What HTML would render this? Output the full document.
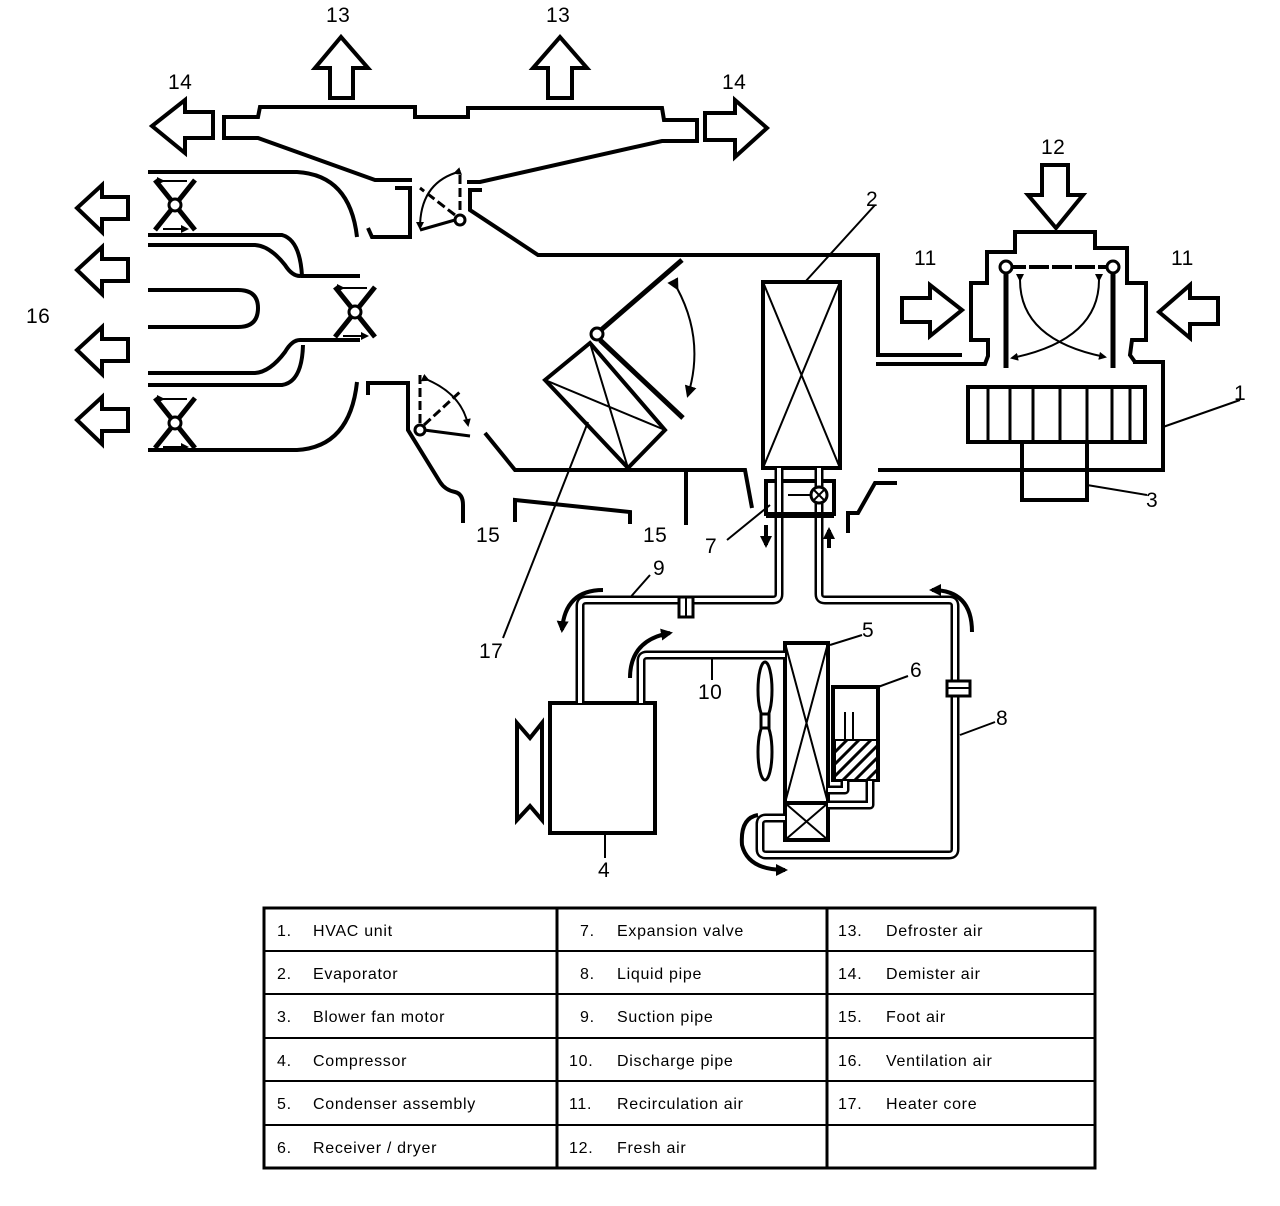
<!DOCTYPE html>
<html><head><meta charset="utf-8"><style>
body{margin:0;background:#fff;width:1280px;height:1206px;overflow:hidden}
svg{display:block}
text{font-family:"Liberation Sans",sans-serif;fill:#000}
.l{font-size:21px;letter-spacing:0.5px}
.t{font-size:16px;letter-spacing:0.7px}
</style></head><body>
<svg width="1280" height="1206" viewBox="0 0 1280 1206" xmlns="http://www.w3.org/2000/svg">
<defs>
<marker id="ah" markerWidth="8" markerHeight="8" refX="6" refY="4" orient="auto" markerUnits="userSpaceOnUse"><path d="M0,0 L8,4 L0,8 z" fill="#000"/></marker>
<marker id="ab" markerWidth="12" markerHeight="12" refX="9" refY="6" orient="auto" markerUnits="userSpaceOnUse"><path d="M0,0 L12,6 L0,12 z" fill="#000"/></marker>
</defs>
<g fill="none" stroke="#000" stroke-width="4" stroke-linejoin="miter">
<path d="M330,98 V68 H315 L341,37 L368,68 H353 V98 Z"/>
<path d="M548,98 V68 H533 L560,37 L587,68 H572 V98 Z"/>
<path d="M213,112 H185 V100 L152,126 L185,153 V138 H213 Z"/>
<path d="M705,113 H735 V100 L767,128 L735,157 V140 H705 Z"/>
<path d="M412,180 H375 L258,138 H224 V117 H258 L260,107 H415 V117 H468 V108 H662 L664,120 H697 V141 H662 L480,182 H467"/>
<path d="M395,188 H410 V237 H372 L368,228"/>
<path d="M482,190 H470 V210 L538,255 H878 V355 H962"/>
<path d="M148,172 H297 Q350,175 357,237"/>
<path d="M148,235 H282 Q300,240 302,276 H360"/>
<path d="M148,245 H255 Q270,246 285,265 Q292,276 300,276"/>
<path d="M148,290 H238 Q258,290 258,308 Q258,327 238,327 H148"/>
<path d="M148,373 H255 Q270,372 285,352 Q292,340 300,340 H360"/>
<path d="M148,385 H282 Q302,382 303,345"/>
<path d="M148,450 H297 Q350,447 357,382"/>
<path d="M128,197 H102 V185 L77,208 L102,232 V219 H128 Z"/>
<path d="M128,259 H102 V247 L77,270 L102,294 V281 H128 Z"/>
<path d="M128,339 H102 V327 L77,350 L102,374 V361 H128 Z"/>
<path d="M128,409 H102 V397 L77,420 L102,444 V431 H128 Z"/>
<path d="M368,395 V383 H408 V430 L440,482 Q445,490 455,492 Q463,494 463,505 V523"/>
<path d="M485,433 L515,470 H745 L752,508"/>
<path d="M686,472 V525"/>
<path d="M515,522 V500 L630,512 V524"/>
<path d="M878,470 H1163 V362 H1133"/>
<path d="M848,533 V513 H858 L875,483 H897"/>
<rect x="763" y="282" width="77" height="186"/>
<rect x="766" y="481" width="68" height="33"/>
<path d="M876,364 H985 L988,356 V340 H971 V283 H987 V252 H1015 V232 H1095 V248 H1127 V283 H1146 V340 H1132 L1130,355 L1135,362"/>
<rect x="968" y="387" width="177" height="55"/>
<rect x="1022" y="442" width="65" height="58"/>
<path d="M902,298 H930 V285 L962,310 L930,336 V322 H902 Z"/>
<path d="M1218,298 H1190 V285 L1159,312 L1190,338 V324 H1218 Z"/>
<path d="M1042,165 H1068 V195 H1083 L1056,228 L1028,195 H1042 Z"/>
<path d="M545,380 L590,343 L665,430 L628,468 Z"/>
<rect x="550" y="703" width="105" height="130"/>
<path d="M517,723 L530,738 L542,723 V820 L530,806 L517,820 Z"/>
<rect x="785" y="643" width="43" height="197"/>
<line x1="785" y1="803" x2="828" y2="803"/>
<rect x="833" y="687" width="45" height="93"/>
</g>
<g stroke="#000" stroke-width="2" fill="none">
<path d="M988,387V442M1010,387V442M1033,387V442M1060,387V442M1087,387V442M1112,387V442M1130,387V442" stroke-width="3"/>
<path d="M763,282 L840,468 M840,282 L763,468"/>
<path d="M785,643 L828,803 M828,643 L785,803 M785,803 L828,840 M828,803 L785,840"/>
<path d="M545,380 L665,430 M590,343 L628,468"/>
<path d="M875,205 L805,282 M1240,400 L1163,427 M1147,495 L1087,485 M727,540 L770,505 M503,638 L588,422 M628,600 L650,575 M712,680 V655 M830,645 L862,635 M878,687 L908,676 M960,735 L995,722 M605,833 V858"/>
</g>
<g fill="none" stroke-linejoin="round">
<path d="M779,468 V594 Q779,600 773,600 H586 Q580,600 580,606 V703" stroke="#000" stroke-width="9"/>
<path d="M779,468 V594 Q779,600 773,600 H586 Q580,600 580,606 V703" stroke="#fff" stroke-width="4"/>
<path d="M819,468 V594 Q819,600 825,600 H949 Q955,600 955,606 V849 Q955,855 949,855 H766 Q760,855 760,849 V824 Q760,818 766,818 H785" stroke="#000" stroke-width="9"/>
<path d="M819,468 V594 Q819,600 825,600 H949 Q955,600 955,606 V849 Q955,855 949,855 H766 Q760,855 760,849 V824 Q760,818 766,818 H785" stroke="#fff" stroke-width="4"/>
<path d="M641,703 V661 Q641,655 647,655 H785" stroke="#000" stroke-width="9"/>
<path d="M641,703 V661 Q641,655 647,655 H785" stroke="#fff" stroke-width="4"/>
<path d="M828,790 H845 V740 M870,780 V805 H828" stroke="#000" stroke-width="9"/>
<path d="M828,790 H845 V740 M870,780 V805 H828" stroke="#fff" stroke-width="4"/>
</g>
<g stroke="#000" stroke-width="3">
<rect x="835" y="740" width="42" height="40" fill="#fff" stroke-width="2"/>
<path d="M835,752 L847,740 M835,764 L859,740 M835,776 L871,740 M843,780 L877,746 M855,780 L877,758 M867,780 L877,770"/>
</g>
<path d="M845,740 V712 M853,740 V712" stroke="#000" stroke-width="2"/>
<rect x="679" y="597" width="14" height="20" fill="#fff" stroke="#000" stroke-width="3"/>
<line x1="686" y1="597" x2="686" y2="617" stroke="#000" stroke-width="2"/>
<rect x="947" y="681" width="23" height="15" fill="#fff" stroke="#000" stroke-width="3"/>
<line x1="947" y1="688" x2="970" y2="688" stroke="#000" stroke-width="2"/>
<rect x="766" y="512" width="68" height="6" fill="#000"/>
<circle cx="819" cy="495" r="8" fill="#fff" stroke="#000" stroke-width="3"/>
<path d="M813,489 L825,501 M825,489 L813,501" stroke="#000" stroke-width="2"/>
<path d="M788,495 H811" stroke="#000" stroke-width="2"/>
<g fill="none" stroke="#000" stroke-width="3">
<ellipse cx="765" cy="690" rx="7" ry="28"/>
<ellipse cx="765" cy="752" rx="7" ry="28"/>
<rect x="761" y="714" width="8" height="14" fill="#fff"/>
</g>
<g stroke="#000" fill="none">
<line x1="601" y1="330" x2="682" y2="260" stroke-width="5"/>
<line x1="600" y1="340" x2="683" y2="418" stroke-width="5"/>
<circle cx="597" cy="334" r="6" fill="#fff" stroke-width="3"/>
<path d="M677,288 Q705,340 688,395" stroke-width="2" marker-start="url(#ab)" marker-end="url(#ab)"/>
</g>
<g stroke="#000" fill="none" stroke-width="3">
<line x1="460" y1="175" x2="460" y2="212" stroke-dasharray="9,4"/>
<line x1="455" y1="215" x2="420" y2="188" stroke-dasharray="9,4"/>
<path d="M455,220 L420,230"/>
<path d="M455,173 Q420,185 420,228" stroke-width="2" marker-start="url(#ah)" marker-end="url(#ah)"/>
<circle cx="460" cy="220" r="5" fill="#fff"/>
<line x1="420" y1="375" x2="420" y2="424" stroke-dasharray="9,4"/>
<line x1="424" y1="425" x2="462" y2="390" stroke-dasharray="9,4"/>
<path d="M424,430 L470,436"/>
<path d="M428,380 Q462,395 468,425" stroke-width="2" marker-start="url(#ah)" marker-end="url(#ah)"/>
<circle cx="420" cy="430" r="5" fill="#fff"/>
</g>
<g stroke="#000" fill="none">
<g transform="translate(175,205)"><path d="M-20,-25 L20,25 M20,-25 L-20,25" stroke-width="5"/><circle r="6" fill="#fff" stroke-width="3"/><path d="M-12,-24 H12 M-12,24 H12" stroke-width="2" marker-start="url(#ah)" marker-end="url(#ah)"/></g>
<g transform="translate(175,423)"><path d="M-20,-25 L20,25 M20,-25 L-20,25" stroke-width="5"/><circle r="6" fill="#fff" stroke-width="3"/><path d="M-12,-24 H12 M-12,24 H12" stroke-width="2" marker-start="url(#ah)" marker-end="url(#ah)"/></g>
<g transform="translate(355,312)"><path d="M-20,-25 L20,25 M20,-25 L-20,25" stroke-width="5"/><circle r="6" fill="#fff" stroke-width="3"/><path d="M-12,-24 H12 M-12,24 H12" stroke-width="2" marker-start="url(#ah)" marker-end="url(#ah)"/></g>
</g>
<g stroke="#000" fill="none">
<line x1="1006" y1="268" x2="1006" y2="368" stroke-width="5"/>
<line x1="1113" y1="268" x2="1113" y2="368" stroke-width="5"/>
<line x1="1006" y1="267" x2="1113" y2="267" stroke-width="4" stroke-dasharray="20,3"/>
<circle cx="1006" cy="267" r="6" fill="#fff" stroke-width="3"/>
<circle cx="1113" cy="267" r="6" fill="#fff" stroke-width="3"/>
<path d="M1020,280 Q1020,340 1105,357" stroke-width="2" marker-start="url(#ah)" marker-end="url(#ah)"/>
<path d="M1099,280 Q1099,340 1012,358" stroke-width="2" marker-start="url(#ah)" marker-end="url(#ah)"/>
</g>
<g stroke="#000" fill="none" stroke-width="4">
<path d="M766,525 V545" marker-end="url(#ab)"/>
<path d="M829,548 V530" marker-end="url(#ab)"/>
<path d="M603,590 Q565,590 562,630" marker-end="url(#ab)"/>
<path d="M630,678 Q630,640 670,633" marker-end="url(#ab)"/>
<path d="M972,632 Q972,590 932,590" marker-end="url(#ab)"/>
<path d="M758,815 Q740,818 742,845 Q748,870 785,870" marker-end="url(#ab)"/>
</g>
<g class="l">
<text x="326" y="22">13</text><text x="546" y="22">13</text>
<text x="168" y="89">14</text><text x="722" y="89">14</text>
<text x="26" y="323">16</text>
<text x="866" y="206">2</text>
<text x="914" y="265">11</text><text x="1171" y="265">11</text>
<text x="1041" y="154">12</text>
<text x="1234" y="400">1</text>
<text x="1146" y="507">3</text>
<text x="476" y="542">15</text><text x="643" y="542">15</text>
<text x="705" y="553">7</text>
<text x="653" y="575">9</text>
<text x="479" y="658">17</text>
<text x="698" y="699">10</text>
<text x="862" y="637">5</text>
<text x="910" y="677">6</text>
<text x="996" y="725">8</text>
<text x="598" y="877">4</text>
</g>
<g stroke="#000" fill="none">
<rect x="264" y="908" width="831" height="260" stroke-width="3"/>
<path d="M557,908V1168M827,908V1168" stroke-width="3"/>
<path d="M264,951H1095M264,994H1095M264,1038H1095M264,1081H1095M264,1125H1095" stroke-width="2"/>
</g>
<g class="t">
<text x="277" y="936">1.</text><text x="313" y="936">HVAC unit</text>
<text x="277" y="979">2.</text><text x="313" y="979">Evaporator</text>
<text x="277" y="1022">3.</text><text x="313" y="1022">Blower fan motor</text>
<text x="277" y="1066">4.</text><text x="313" y="1066">Compressor</text>
<text x="277" y="1109">5.</text><text x="313" y="1109">Condenser assembly</text>
<text x="277" y="1153">6.</text><text x="313" y="1153">Receiver / dryer</text>
<text x="580" y="936">7.</text><text x="617" y="936">Expansion valve</text>
<text x="580" y="979">8.</text><text x="617" y="979">Liquid pipe</text>
<text x="580" y="1022">9.</text><text x="617" y="1022">Suction pipe</text>
<text x="569" y="1066">10.</text><text x="617" y="1066">Discharge pipe</text>
<text x="569" y="1109">11.</text><text x="617" y="1109">Recirculation air</text>
<text x="569" y="1153">12.</text><text x="617" y="1153">Fresh air</text>
<text x="838" y="936">13.</text><text x="886" y="936">Defroster air</text>
<text x="838" y="979">14.</text><text x="886" y="979">Demister air</text>
<text x="838" y="1022">15.</text><text x="886" y="1022">Foot air</text>
<text x="838" y="1066">16.</text><text x="886" y="1066">Ventilation air</text>
<text x="838" y="1109">17.</text><text x="886" y="1109">Heater core</text>
</g>
</svg>
</body></html>
